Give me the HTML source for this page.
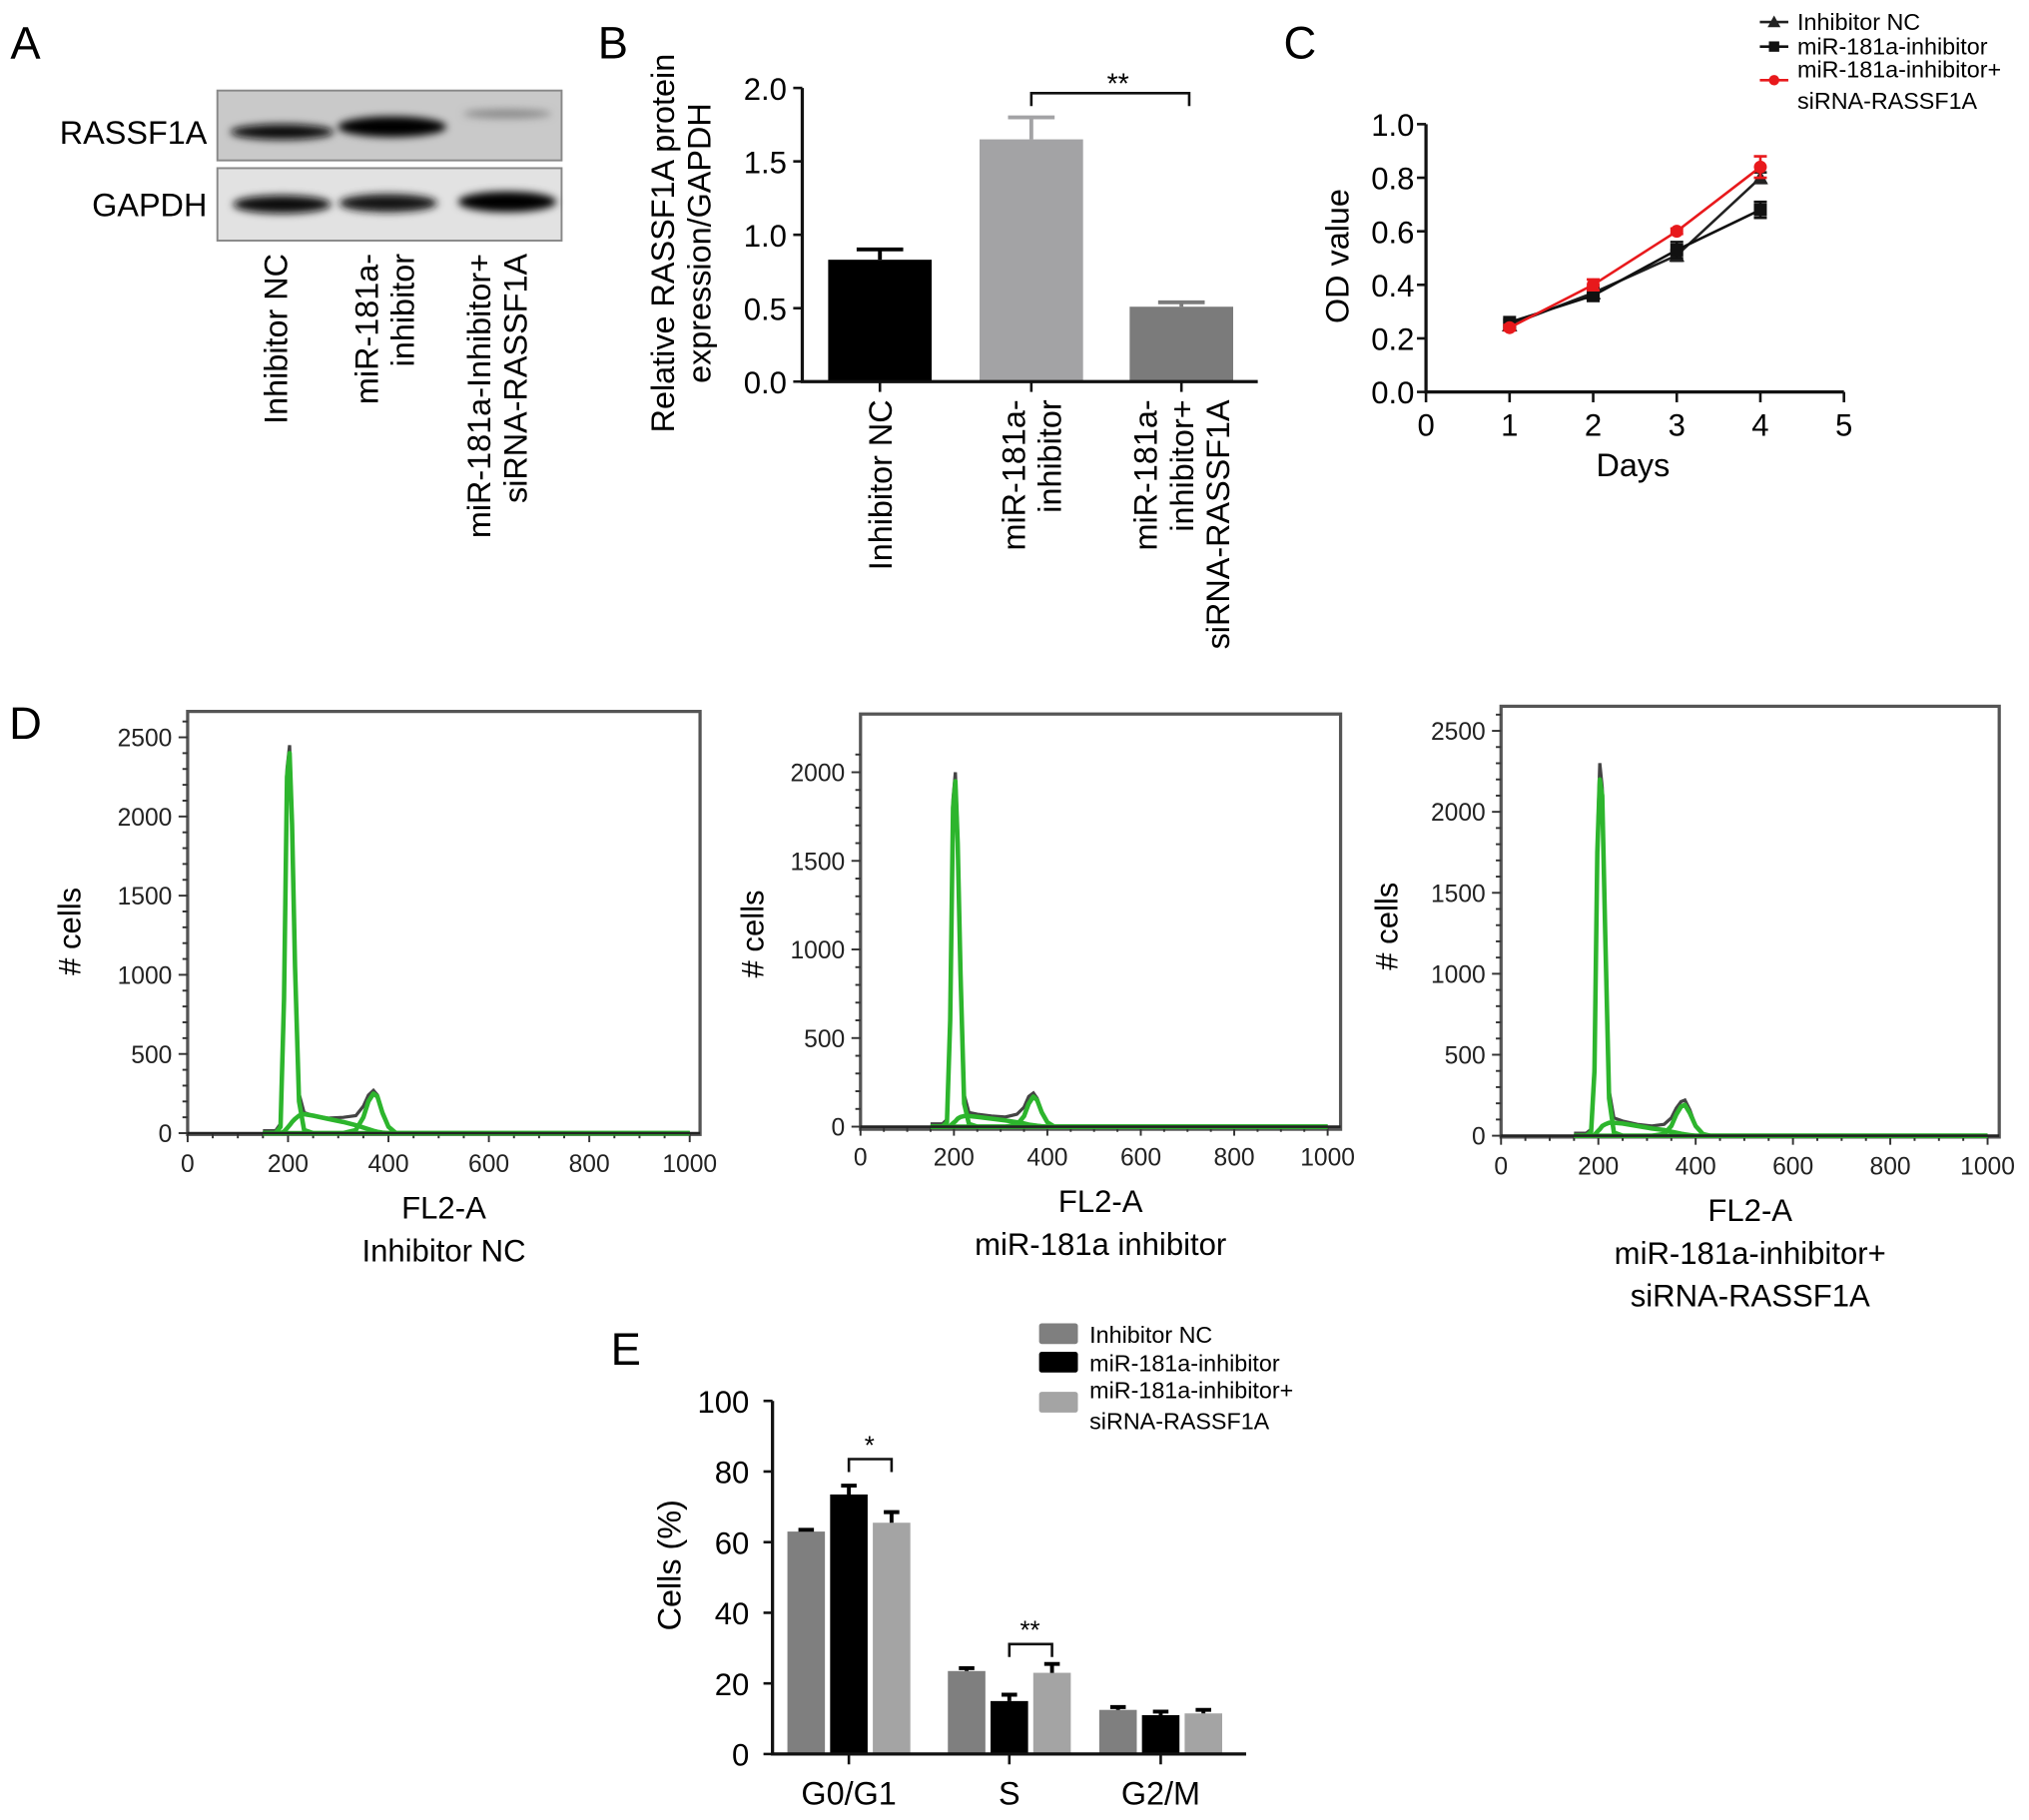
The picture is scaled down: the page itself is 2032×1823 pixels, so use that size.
<!DOCTYPE html>
<html><head><meta charset="utf-8"><style>
html,body{margin:0;padding:0;background:#fff;}
svg{display:block;font-family:"Liberation Sans",Arial,sans-serif;}
</style></head><body>
<svg id="fig" width="2032" height="1823" viewBox="0 0 1568 1407" preserveAspectRatio="none" xmlns="http://www.w3.org/2000/svg">
<defs>
<filter id="blur" x="-20%" y="-100%" width="140%" height="300%"><feGaussianBlur stdDeviation="3"/></filter>
</defs>
<text x="8" y="45" font-size="35">A</text>
<text x="462" y="45" font-size="35">B</text>
<text x="992" y="45" font-size="35">C</text>
<text x="7" y="571" font-size="35">D</text>
<text x="472" y="1055" font-size="35">E</text>

<g>
<rect x="168" y="70" width="266" height="54" fill="#c9c9c9" stroke="#888" stroke-width="1.5"/>
<rect x="168" y="130" width="266" height="56" fill="#e2e2e2" stroke="#888" stroke-width="1.5"/>
<ellipse cx="218" cy="102" rx="40" ry="6" fill="#111" filter="url(#blur)"/>
<ellipse cx="303" cy="98" rx="42" ry="8" fill="#050505" filter="url(#blur)"/>
<ellipse cx="392" cy="88" rx="34" ry="3.5" fill="#8a8a8a" filter="url(#blur)"/>
<ellipse cx="218" cy="158" rx="38" ry="7" fill="#111" filter="url(#blur)"/>
<ellipse cx="300" cy="157" rx="38" ry="7" fill="#141414" filter="url(#blur)"/>
<ellipse cx="392" cy="156" rx="38" ry="8" fill="#050505" filter="url(#blur)"/>
</g>
<text x="160" y="111" font-size="25" text-anchor="end">RASSF1A</text>
<text x="160" y="167" font-size="25" text-anchor="end">GAPDH</text>
<g font-size="25">
<text transform="translate(222,196) rotate(-90)" text-anchor="end">Inhibitor NC</text>
<text transform="translate(292,196) rotate(-90)" text-anchor="end"><tspan x="0" dy="0">miR-181a-</tspan><tspan x="0" dy="28">inhibitor</tspan></text>
<text transform="translate(379,196) rotate(-90)" text-anchor="end"><tspan x="0" dy="0">miR-181a-Inhibitor+</tspan><tspan x="0" dy="28">siRNA-RASSF1A</tspan></text>
</g>

<g id="panelB"></g>
<g id="panelC"></g>
<g id="panelD"></g>
<g id="panelE"></g>
</svg>
<script>
const NS="http://www.w3.org/2000/svg";
function mk(parent,tag,attrs,text){const e=document.createElementNS(NS,tag);for(const k in attrs)e.setAttribute(k,attrs[k]);if(text!==undefined)e.textContent=text;parent.appendChild(e);return e;}

// ---------- Panel B data ----------
const bCategories=["Inhibitor NC","miR-181a-inhibitor","miR-181a-inhibitor+siRNA-RASSF1A"];
const bValues=[0.83,1.65,0.51];
const bErrors=[0.07,0.15,0.03];
const bTicks=[0.0,0.5,1.0,1.5,2.0];
// ---------- Panel C data ----------
const cDays=[1,2,3,4];
const cNC=[0.25,0.37,0.51,0.80];
const cNCerr=[0.01,0.02,0.02,0.02];
const cInh=[0.26,0.36,0.53,0.68];
const cInhErr=[0.01,0.02,0.03,0.03];
const cSi=[0.24,0.40,0.60,0.84];
const cSiErr=[0.01,0.02,0.01,0.04];
const cXTicks=[0,1,2,3,4,5];
const cYTicks=[0.0,0.2,0.4,0.6,0.8,1.0];
// ---------- Panel D data ----------
const dX=[150,175,185,192,198,203,208,214,222,232,250,280,310,335,350,360,370,378,388,400,415,430,1000];
const d1Total=[15,15,60,900,2300,2450,2000,1100,250,130,110,95,100,110,170,240,270,240,120,40,0,0,0];
const d1G1=[0,0,40,850,2250,2400,1950,1050,200,20,0,0,0,0,0,0,0,0,0,0,0,0,0];
const d1S=[0,0,0,10,30,50,70,90,110,120,110,90,70,50,35,25,15,8,3,0,0,0,0];
const d1G2=[0,0,0,0,0,0,0,0,0,0,0,0,0,20,100,200,250,230,130,40,0,0,0];
const d2Total=[15,15,40,650,1850,2000,1650,900,180,80,70,60,55,70,110,170,190,160,80,25,0,0,0];
const d2G1=[0,0,25,600,1800,1950,1600,860,130,15,0,0,0,0,0,0,0,0,0,0,0,0,0];
const d2S=[0,0,0,5,20,30,45,55,60,60,55,45,35,25,18,12,8,5,2,0,0,0,0];
const d2G2=[0,0,0,0,0,0,0,0,0,0,0,0,0,10,60,130,170,150,80,25,0,0,0];
const d3Total=[15,15,40,450,1800,2300,2150,1300,280,110,90,70,60,70,110,170,210,220,160,60,10,0,0];
const d3G1=[0,0,25,400,1750,2200,2100,1250,230,20,0,0,0,0,0,0,0,0,0,0,0,0,0];
const d3S=[0,0,0,5,25,40,60,70,80,80,75,60,45,35,25,18,12,8,4,0,0,0,0];
const d3G2=[0,0,0,0,0,0,0,0,0,0,0,0,0,10,60,130,180,190,140,60,10,0,0];
const dXTicks=[0,200,400,600,800,1000];
const d1YTicks=[0,500,1000,1500,2000,2500];
const d2YTicks=[0,500,1000,1500,2000];
const d3YTicks=[0,500,1000,1500,2000,2500];
// ---------- Panel E data ----------
const ePhases=["G0/G1","S","G2/M"];
const eNC=[63,23.5,12.5];
const eNCerr=[0.5,0.8,0.8];
const eInh=[73.5,15,11];
const eInhErr=[2.5,1.8,1];
const eSi=[65.5,23,11.5];
const eSiErr=[3,2.5,1];
const eYTicks=[0,20,40,60,80,100];

// ===== Panel B =====
(function(){
const g=document.getElementById('panelB');
const x0=620,y0=295,yTop=68,vmax=2.0;
const Y=v=>y0-(v/vmax)*(y0-yTop);
const centers=[680,797,913];const bw=80;
const colors=["#000000","#a3a3a5","#7b7b7b"];
bValues.forEach((v,i)=>{
 const r=mk(g,'rect',{x:centers[i]-bw/2,y:Y(v),width:bw,height:y0-Y(v),fill:colors[i]});
 
 
 const e=mk(g,'path',{d:`M${centers[i]},${Y(v)} V${Y(v+bErrors[i])} M${centers[i]-18},${Y(v+bErrors[i])} H${centers[i]+18}`,stroke:colors[i],'stroke-width':3,fill:'none'});
 
 
});
const ax=mk(g,'path',{d:`M${x0},${yTop} V${y0} H972`,stroke:'#111','stroke-width':2.5,fill:'none'});


bTicks.forEach(t=>{
 mk(g,'line',{x1:x0-7,x2:x0,y1:Y(t),y2:Y(t),stroke:'#111','stroke-width':2});
 const tl=mk(g,'text',{x:x0-12,y:Y(t)+9,'font-size':24,'text-anchor':'end'},t.toFixed(1));
 
 
});
centers.forEach(c=>mk(g,'line',{x1:c,x2:c,y1:y0,y2:y0+8,stroke:'#111','stroke-width':2}));
const labs=[["Inhibitor NC"],["miR-181a-","inhibitor"],["miR-181a-","inhibitor+","siRNA-RASSF1A"]];
labs.forEach((l,i)=>{
 const n=l.length;
 const t=mk(g,'text',{transform:`translate(${centers[i]+9-(n-1)*14},${y0+14}) rotate(-90)`,'font-size':25,'text-anchor':'end'});
 
 
 l.forEach((s,j)=>mk(t,'tspan',{x:0,dy:j?28:0},s));
});
const yt=mk(g,'text',{transform:'translate(521,188) rotate(-90)','font-size':25,'text-anchor':'middle'});


mk(yt,'tspan',{x:0,dy:0},'Relative RASSF1A protein');
mk(yt,'tspan',{x:0,dy:28},'expression/GAPDH');
const br=mk(g,'path',{d:`M797,82 V72 H919 V82`,stroke:'#111','stroke-width':2,fill:'none'});


const st=mk(g,'text',{x:864,y:72,'font-size':22,'text-anchor':'middle'},'**');


})();

// ===== Panel C =====
(function(){
const g=document.getElementById('panelC');
const x0=1102,x5=1425,y0=303,y1=96;
const X=d=>x0+d/5*(x5-x0);const Y=v=>y0-v*(y0-y1);
const ax=mk(g,'path',{d:`M${x0},${y1} V${y0} H${x5}`,stroke:'#111','stroke-width':2.5,fill:'none'});


cYTicks.forEach(t=>{mk(g,'line',{x1:x0-7,x2:x0,y1:Y(t),y2:Y(t),stroke:'#111','stroke-width':2});
 const l=mk(g,'text',{x:x0-9,y:Y(t)+9,'font-size':24,'text-anchor':'end'},t.toFixed(1));
 
 });
cXTicks.forEach(t=>{mk(g,'line',{x1:X(t),x2:X(t),y1:y0,y2:y0+8,stroke:'#111','stroke-width':2});
 const l=mk(g,'text',{x:X(t),y:y0+34,'font-size':24,'text-anchor':'middle'},t);
 
 });
const xt=mk(g,'text',{x:1262,y:368,'font-size':25,'text-anchor':'middle'},'Days');


const yt=mk(g,'text',{transform:'translate(1042,198) rotate(-90)','font-size':25,'text-anchor':'middle'},'OD value');


const series=[[cNC,cNCerr,'#222','tri','series-inhibitor-nc'],[cInh,cInhErr,'#111','sq','series-mir181a-inhibitor'],[cSi,cSiErr,'#e8191c','circ','series-sirna-rassf1a']];
series.forEach(([vals,errs,col,mark,name])=>{
 const sg=mk(g,'g',{});
 
 
 mk(sg,'polyline',{points:cDays.map((d,i)=>X(d)+','+Y(vals[i])).join(' '),fill:'none',stroke:col,'stroke-width':2});
 cDays.forEach((d,i)=>{
  const x=X(d),y=Y(vals[i]),e=errs[i]*(y0-y1);
  mk(sg,'path',{d:`M${x},${y-e} V${y+e} M${x-5},${y-e} H${x+5} M${x-5},${y+e} H${x+5}`,stroke:col,'stroke-width':2});
  if(mark==='tri')mk(sg,'path',{d:`M${x},${y-6} L${x+6},${y+5} L${x-6},${y+5} Z`,fill:col});
  else if(mark==='sq')mk(sg,'rect',{x:x-5,y:y-5,width:10,height:10,fill:col});
  else mk(sg,'circle',{cx:x,cy:y,r:5,fill:col});
 });
});
const leg=[['Inhibitor NC','#222','tri',17],['miR-181a-inhibitor','#111','sq',36],['miR-181a-inhibitor+','#e8191c','circ',62]];
leg.forEach(([t,col,mark,y],i)=>{
 const lg=mk(g,'g',{});
 
 
 mk(lg,'line',{x1:1360,x2:1382,y1:y,y2:y,stroke:col,'stroke-width':2});
 if(mark==='tri')mk(lg,'path',{d:`M1371,${y-5} L1376,${y+4} L1366,${y+4} Z`,fill:col});
 else if(mark==='sq')mk(lg,'rect',{x:1367,y:y-4,width:8,height:8,fill:col});
 else mk(lg,'circle',{cx:1371,cy:y,r:4,fill:col});
 mk(lg,'text',{x:1389,y:i==2?y-2:y+6,'font-size':18},t);
 if(i==2)mk(lg,'text',{x:1389,y:y+22,'font-size':18},'siRNA-RASSF1A');
});
})();

// ===== Panel D =====
(function(){
const g=document.getElementById('panelD');
const panels=[
 {bx:145,by:550,bw:396,bh:327,x1000:533,y0:876,ymax:2500,ytop:570,yt:d1YTicks,tot:d1Total,g1:d1G1,s:d1S,g2:d1G2,lab:['FL2-A','Inhibitor NC'],ylx:62},
 {bx:665,by:552,bw:371,bh:321,x1000:1026,y0:871,ymax:2000,ytop:597,yt:d2YTicks,tot:d2Total,g1:d2G1,s:d2S,g2:d2G2,lab:['FL2-A','miR-181a inhibitor'],ylx:590},
 {bx:1160,by:546,bw:385,bh:333,x1000:1536,y0:878,ymax:2500,ytop:565,yt:d3YTicks,tot:d3Total,g1:d3G1,s:d3S,g2:d3G2,lab:['FL2-A','miR-181a-inhibitor+','siRNA-RASSF1A'],ylx:1080}
];
panels.forEach((p,pi)=>{
 const pg=mk(g,'g',{});
 
 
 const X=v=>p.bx+v/1000*(p.x1000-p.bx);
 const Y=v=>p.y0-v/p.ymax*(p.y0-p.ytop);
 mk(pg,'rect',{x:p.bx,y:p.by,width:p.bw,height:p.bh,fill:'none',stroke:'#555','stroke-width':2.5});
 for(let v=0;v<=1050;v+=50){if(X(v)>p.bx+p.bw)break;mk(pg,'line',{x1:X(v),x2:X(v),y1:p.y0,y2:p.y0+(v%200?4:7),stroke:'#333','stroke-width':1.5});}
 for(let v=0;v<=p.ymax+100;v+=100){if(Y(v)<p.by)break;mk(pg,'line',{x1:p.bx,x2:p.bx-(v%500?4:7),y1:Y(v),y2:Y(v),stroke:'#333','stroke-width':1.5});}
 dXTicks.forEach(t=>{const l=mk(pg,'text',{x:X(t),y:p.y0+30,'font-size':19,'text-anchor':'middle',fill:'#222'},t);
  
  });
 p.yt.forEach(t=>{const l=mk(pg,'text',{x:p.bx-12,y:Y(t)+7,'font-size':19,'text-anchor':'end',fill:'#222'},t);
  
  });
 const pts=a=>dX.map((x,i)=>X(x).toFixed(1)+','+Y(a[i]).toFixed(1)).join(' ');
 const tl=mk(pg,'polyline',{points:pts(p.tot),fill:'none',stroke:'#444','stroke-width':2.5});
 
 
 [p.g1,p.s,p.g2].forEach((a,k)=>{const c=mk(pg,'polyline',{points:pts(a),fill:'none',stroke:'#2db52d','stroke-width':3.5,'stroke-linejoin':'round'});
  
  });
 mk(pg,'line',{x1:p.bx,x2:p.bx+p.bw,y1:p.y0,y2:p.y0,stroke:'#222','stroke-width':2});
 const cx=p.bx+p.bw/2;
 const lt=mk(pg,'text',{x:cx,y:p.y0+66,'font-size':24,'text-anchor':'middle'});
 
 
 p.lab.forEach((s,j)=>mk(lt,'tspan',{x:cx,dy:j?33:0},s));
 const yl=mk(pg,'text',{transform:`translate(${p.ylx},${p.by+170}) rotate(-90)`,'font-size':24,'text-anchor':'middle'},'# cells');
 
 
});
})();

// ===== Panel E =====
(function(){
const g=document.getElementById('panelE');
const x0=597,y0=1356,yTop=1083;
const Y=v=>y0-v/100*(y0-yTop);
const gc=[656,780,897];const off=[-33,0,33];const bw=29;
const cols=["#7f7f7f","#000000","#a4a4a4"];
const vals=[eNC,eInh,eSi],errs=[eNCerr,eInhErr,eSiErr];
const names=['inhibitor-nc','mir181a-inhibitor','sirna-rassf1a'];
ePhases.forEach((ph,i)=>{
 vals.forEach((arr,s)=>{
  const x=gc[i]+off[s],v=arr[i],e=errs[s][i];
  const r=mk(g,'rect',{x:x-bw/2,y:Y(v),width:bw,height:y0-Y(v),fill:cols[s]});
  
  
  mk(g,'path',{d:`M${x},${Y(v)} V${Y(v+e)} M${x-6},${Y(v+e)} H${x+6}`,stroke:'#000','stroke-width':3});
 });
 mk(g,'line',{x1:gc[i],x2:gc[i],y1:y0,y2:y0+8,stroke:'#111','stroke-width':2});
 const l=mk(g,'text',{x:gc[i],y:y0+39,'font-size':25,'text-anchor':'middle'},ph);
 
 
});
const ax=mk(g,'path',{d:`M${x0},${yTop} V${y0} H963`,stroke:'#111','stroke-width':2.5,fill:'none'});


eYTicks.forEach(t=>{mk(g,'line',{x1:x0-7,x2:x0,y1:Y(t),y2:Y(t),stroke:'#111','stroke-width':2});
 const l=mk(g,'text',{x:x0-18,y:Y(t)+9,'font-size':24,'text-anchor':'end'},t);
 
 });
const yt=mk(g,'text',{transform:'translate(526,1210) rotate(-90)','font-size':25,'text-anchor':'middle'},'Cells (%)');


const b1=mk(g,'path',{d:`M656,1138 V1128 H689 V1138`,stroke:'#111','stroke-width':2,fill:'none'});


const s1=mk(g,'text',{x:672,y:1124,'font-size':20,'text-anchor':'middle'},'*');


const b2=mk(g,'path',{d:`M780,1281 V1271 H813 V1281`,stroke:'#111','stroke-width':2,fill:'none'});


const s2=mk(g,'text',{x:796,y:1267,'font-size':20,'text-anchor':'middle'},'**');


const leg=[['Inhibitor NC',cols[0],1031],['miR-181a-inhibitor',cols[1],1053],['miR-181a-inhibitor+',cols[2],1084]];
leg.forEach(([t,c,y],i)=>{
 const lg=mk(g,'g',{});
 
 
 mk(lg,'rect',{x:803,y:y-8,width:30,height:16,fill:c,rx:2});
 mk(lg,'text',{x:842,y:i==2?y-3:y+7,'font-size':18},t);
 if(i==2)mk(lg,'text',{x:842,y:y+21,'font-size':18},'siRNA-RASSF1A');
});
})();
</script>
</body></html>
